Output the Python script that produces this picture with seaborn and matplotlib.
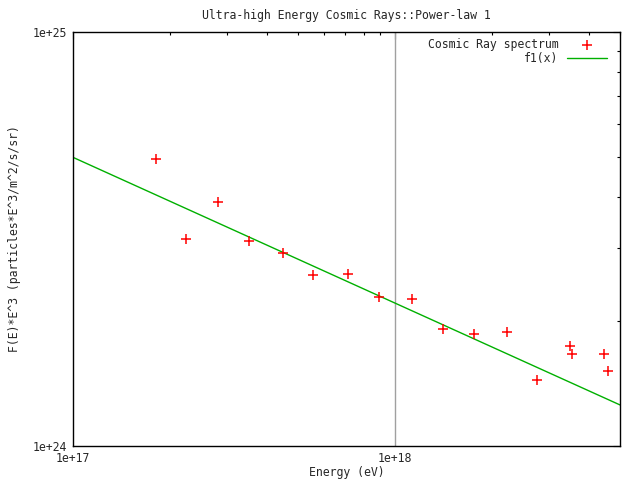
import matplotlib
matplotlib.use("Agg")
import matplotlib.pyplot as plt
import seaborn as sns
import numpy as np
import pandas as pd
from matplotlib.ticker import LogLocator, NullFormatter, FixedLocator

# Dados
energia = [1.81e17, 2.25e17, 2.83e17, 3.52e17, 4.49e17, 5.57e17, 7.14e17, 8.95e17,
           1.127e18, 1.406e18, 1.762e18, 2.235e18, 2.77e18, 3.49e18, 3.55e18,
           4.45e18, 4.59e18]
fluxo = [4.93e24, 3.17e24, 3.88e24, 3.12e24, 2.92e24, 2.59e24, 2.60e24, 2.29e24,
         2.27e24, 1.92e24, 1.86e24, 1.89e24, 1.44e24, 1.74e24, 1.67e24,
         1.67e24, 1.52e24]

# Parâmetros do ajuste f1(x) = A * (x/1e17)^gamma
A = 4.98e24
gamma = -0.352

df = pd.DataFrame({'Energia': energia, 'Fluxo': fluxo})
x_fit = np.logspace(17, np.log10(5e18), 200)
df_fit = pd.DataFrame({'Energia': x_fit, 'f1': A * (x_fit / 1e17) ** gamma})

sns.set_style('white')
plt.rcParams['font.family'] = ['DejaVu Sans Mono']
fs = 8.3

fig = plt.figure(figsize=(6.4, 4.8), dpi=100)
ax = fig.add_axes([73 / 640, 34 / 480, (620 - 73) / 640, (446 - 32) / 480])

ax.axvline(1e18, color='#a0a0a0', linewidth=1, zorder=1)
sns.scatterplot(data=df, x='Energia', y='Fluxo', marker='+', s=60, color='red',
                linewidth=1.1, label='Cosmic Ray spectrum', ax=ax, zorder=3)
sns.lineplot(data=df_fit, x='Energia', y='f1', color='#00b000', linewidth=1,
             label='f1(x)', ax=ax, zorder=2)

ax.set_xscale('log')
ax.set_yscale('log')
ax.set_xlim(1e17, 5e18)
ax.set_ylim(1e24, 1e25)

ax.xaxis.set_major_locator(FixedLocator([1e17, 1e18]))
ax.yaxis.set_major_locator(FixedLocator([1e24, 1e25]))
ax.set_xticklabels(['1e+17', '1e+18'])
ax.set_yticklabels(['1e+24', '1e+25'])
ax.xaxis.set_minor_locator(LogLocator(base=10, subs=np.arange(2, 10), numticks=20))
ax.yaxis.set_minor_locator(LogLocator(base=10, subs=np.arange(2, 10), numticks=20))
ax.xaxis.set_minor_formatter(NullFormatter())
ax.yaxis.set_minor_formatter(NullFormatter())
ax.tick_params(which='both', direction='in', top=True, right=True, labelsize=fs,
               color='black', width=0.8)
ax.tick_params(which='major', length=5, pad=4)
ax.tick_params(which='minor', length=2.5)

for s in ax.spines.values():
    s.set_color('black')
    s.set_linewidth(1)

ax.set_title('Ultra-high Energy Cosmic Rays::Power-law 1', fontsize=fs, pad=9)
ax.set_xlabel('Energy (eV)', fontsize=fs, labelpad=1)
ax.set_ylabel('F(E)*E^3 (particles*E^3/m^2/s/sr)', fontsize=fs, labelpad=9)

leg = ax.legend(loc='upper right', frameon=False, markerfirst=False, fontsize=fs,
                handlelength=3.5, handletextpad=0.7, labelspacing=0.05,
                borderpad=0, borderaxespad=0,
                bbox_to_anchor=((607 - 73) / 547, (446 - 38) / 414))

fig.savefig('out.png', dpi=100)
